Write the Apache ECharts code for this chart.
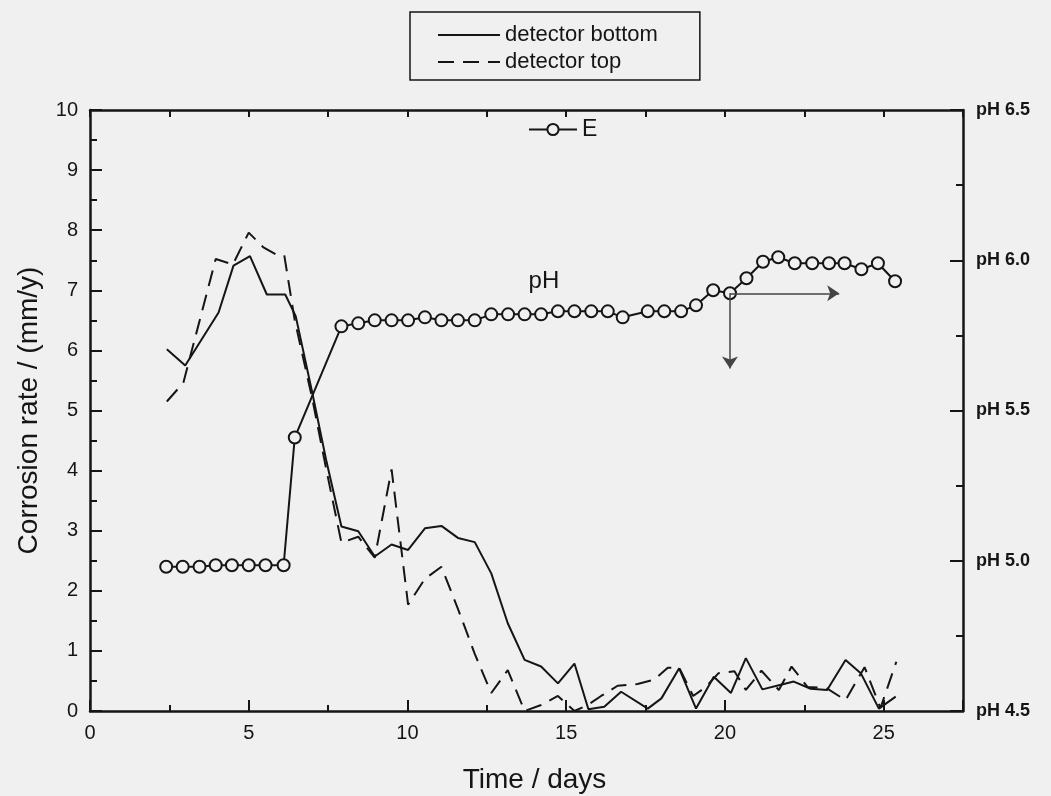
<!DOCTYPE html>
<html>
<head>
<meta charset="utf-8">
<title>Corrosion rate</title>
<script src="https://cdn.jsdelivr.net/npm/echarts@6/dist/echarts.min.js"></script>
<style>
  html, body { margin: 0; padding: 0; background: #f0f0f0; }
  #chart { width: 1051px; height: 796px; }
</style>
</head>
<body>
<div id="chart"></div>
<script type="text/javascript">
// detector bottom (solid)
var bottomDays = [2.42, 3.0, 4.05, 4.52, 5.04, 5.57, 6.15, 6.48, 7.0, 7.45, 7.92, 8.45, 8.97, 9.5, 10.02, 10.55, 11.07, 11.59, 12.12, 12.64, 13.16, 13.69, 14.21, 14.74, 15.26, 15.7, 16.2, 16.73, 17.57, 18.0, 18.56, 19.09, 19.65, 20.19, 20.66, 21.18, 21.7, 22.17, 22.7, 23.22, 23.8, 24.28, 24.85, 25.38];
var bottomRate = [6.02, 5.75, 6.63, 7.41, 7.57, 6.93, 6.93, 6.57, 5.3, 4.15, 3.07, 2.99, 2.57, 2.77, 2.68, 3.04, 3.08, 2.88, 2.81, 2.29, 1.46, 0.85, 0.74, 0.46, 0.79, 0.03, 0.07, 0.32, 0.04, 0.21, 0.71, 0.04, 0.57, 0.3, 0.88, 0.36, 0.43, 0.49, 0.37, 0.35, 0.85, 0.63, 0.04, 0.24];

// detector top (dashed)
var topDays = [2.42, 2.94, 3.96, 4.5, 5.0, 5.45, 5.85, 6.12, 6.45, 7.0, 7.45, 7.92, 8.45, 8.97, 9.5, 10.02, 10.55, 11.07, 11.59, 12.12, 12.64, 13.16, 13.69, 14.21, 14.74, 15.26, 15.68, 16.1, 16.62, 17.25, 17.77, 18.2, 18.56, 19.0, 19.4, 19.8, 20.3, 20.66, 21.15, 21.7, 22.1, 22.6, 23.2, 23.8, 24.4, 24.9, 25.4];
var topRate = [5.15, 5.46, 7.52, 7.43, 7.96, 7.72, 7.6, 7.58, 6.5, 5.2, 4.0, 2.8, 2.9, 2.55, 4.02, 1.77, 2.2, 2.4, 1.7, 0.95, 0.3, 0.68, 0.0, 0.1, 0.25, 0.0, 0.1, 0.25, 0.42, 0.45, 0.52, 0.72, 0.72, 0.25, 0.4, 0.63, 0.66, 0.35, 0.67, 0.35, 0.74, 0.4, 0.38, 0.18, 0.73, 0.05, 0.82];

// E / pH (right axis)
var phDays = [2.4, 2.92, 3.45, 3.96, 4.47, 5.0, 5.53, 6.1, 6.45, 7.92, 8.45, 8.97, 9.5, 10.02, 10.55, 11.07, 11.59, 12.12, 12.64, 13.17, 13.69, 14.21, 14.74, 15.26, 15.79, 16.31, 16.78, 17.57, 18.09, 18.62, 19.09, 19.63, 20.16, 20.68, 21.2, 21.68, 22.2, 22.75, 23.28, 23.77, 24.3, 24.82, 25.36];
var phValues = [4.98, 4.98, 4.98, 4.985, 4.985, 4.985, 4.985, 4.985, 5.41, 5.78, 5.79, 5.80, 5.80, 5.80, 5.81, 5.80, 5.80, 5.80, 5.82, 5.82, 5.82, 5.82, 5.83, 5.83, 5.83, 5.83, 5.81, 5.83, 5.83, 5.83, 5.85, 5.90, 5.89, 5.94, 5.995, 6.01, 5.99, 5.99, 5.99, 5.99, 5.97, 5.99, 5.93];

// arrows from the pH point at day 20.16
var arrowStart = [20.16, 5.89];
var arrowRight = [23.6, 5.89];
var arrowDown = [20.16, 5.64];
var phLabelAt = [14.3, 5.93];

function pairs(xs, ys) {
    return xs.map(function (x, i) { return [x, ys[i]]; });
}

var ink = '#151515';
var bg = '#f0f0f0';
var font = 'Liberation Sans, Arial, sans-serif';

var chart = echarts.init(document.getElementById('chart'));
chart.setOption({
    backgroundColor: bg,
    animation: false,
    textStyle: { fontFamily: font, color: ink },
    grid: { left: 90, right: 88, top: 110, bottom: 85, containLabel: false, outerBoundsMode: 'none' },
    legend: [{
        data: ['detector bottom', 'detector top'],
        orient: 'vertical',
        left: 410, top: 12,
        padding: [12, 42, 7, 27],
        itemWidth: 62, itemHeight: 14, itemGap: 5,
        borderColor: ink, borderWidth: 1.5,
        itemStyle: { opacity: 0 },
        textStyle: { fontFamily: font, fontSize: 22, color: ink }
    }, {
        data: ['E'],
        left: 523, top: 113,
        itemWidth: 48, itemHeight: 14,
        textStyle: { fontFamily: font, fontSize: 23, color: ink }
    }],
    xAxis: [{
        type: 'value', position: 'bottom', offset: 0,
        min: 0, max: 27.5, interval: 2.5,
        name: 'Time / days', nameLocation: 'middle', nameGap: 55,
        nameTextStyle: { fontFamily: font, fontSize: 28, color: ink, padding: [0, 0, 0, 16] },
        axisLine: { onZero: false, lineStyle: { color: ink, width: 2.5 } },
        axisTick: { inside: true, length: 6, lineStyle: { color: ink, width: 2 } },
        axisLabel: {
            fontFamily: font, fontSize: 20, color: ink, margin: 12,
            formatter: function (v) { return v % 5 === 0 ? String(v) : ''; }
        },
        splitLine: { show: false }
    }, {
        type: 'value', position: 'bottom', offset: 0,
        min: 0, max: 27.5, interval: 5,
        axisLine: { show: false, onZero: false },
        axisTick: { inside: true, length: 11, lineStyle: { color: ink, width: 2 } },
        axisLabel: { show: false },
        splitLine: { show: false }
    }, {
        type: 'value', position: 'top', offset: 0,
        min: 0, max: 27.5, interval: 2.5,
        axisLine: { onZero: false, lineStyle: { color: ink, width: 2.5 } },
        axisTick: { inside: true, length: 7, lineStyle: { color: ink, width: 2 } },
        axisLabel: { show: false },
        splitLine: { show: false }
    }],
    yAxis: [{
        type: 'value', position: 'left',
        min: 0, max: 10, interval: 1,
        name: 'Corrosion rate / (mm/y)', nameLocation: 'middle', nameGap: 47,
        nameTextStyle: { fontFamily: font, fontSize: 28, color: ink },
        axisLine: { show: true, onZero: false, lineStyle: { color: ink, width: 2.5 } },
        axisTick: { inside: true, length: 12, lineStyle: { color: ink, width: 2 } },
        minorTick: { show: true, splitNumber: 2, length: 7, lineStyle: { color: ink, width: 2 } },
        axisLabel: { fontFamily: font, fontSize: 20, color: ink, margin: 12 },
        splitLine: { show: false }
    }, {
        type: 'value', position: 'right',
        min: 4.5, max: 6.5, interval: 0.5,
        axisLine: { show: true, onZero: false, lineStyle: { color: ink, width: 2.5 } },
        axisTick: { inside: true, length: 13, lineStyle: { color: ink, width: 2 } },
        minorTick: { show: true, splitNumber: 2, length: 7, lineStyle: { color: ink, width: 2 } },
        axisLabel: {
            fontFamily: font, fontSize: 18, fontWeight: 'bold', color: ink, margin: 13,
            formatter: function (v) { return 'pH ' + v.toFixed(1); }
        },
        splitLine: { show: false }
    }],
    series: [{
        name: 'detector bottom', type: 'line',
        xAxisIndex: 0, yAxisIndex: 0,
        data: pairs(bottomDays, bottomRate),
        symbol: 'none',
        lineStyle: { color: ink, width: 2 },
        itemStyle: { color: ink }
    }, {
        name: 'detector top', type: 'line',
        xAxisIndex: 0, yAxisIndex: 0,
        data: pairs(topDays, topRate),
        symbol: 'none',
        lineStyle: { color: ink, width: 2, type: [16, 9] },
        itemStyle: { color: ink }
    }, {
        name: 'E', type: 'line',
        xAxisIndex: 0, yAxisIndex: 1,
        data: pairs(phDays, phValues),
        symbol: 'circle', symbolSize: 12,
        lineStyle: { color: ink, width: 2 },
        itemStyle: { color: bg, borderColor: ink, borderWidth: 2 },
        markPoint: {
            symbol: 'circle', symbolSize: 0,
            label: { show: true, formatter: 'pH', fontFamily: font, fontSize: 24, color: ink },
            data: [{ coord: phLabelAt }]
        },
        markLine: {
            silent: true,
            symbol: ['none', 'arrow'], symbolSize: 12,
            lineStyle: { color: '#444', width: 1.5, type: 'solid' },
            itemStyle: { color: '#444' },
            label: { show: false },
            data: [
                [{ coord: arrowStart }, { coord: arrowRight }],
                [{ coord: arrowStart }, { coord: arrowDown }]
            ]
        }
    }]
});
</script>
</body>
</html>
